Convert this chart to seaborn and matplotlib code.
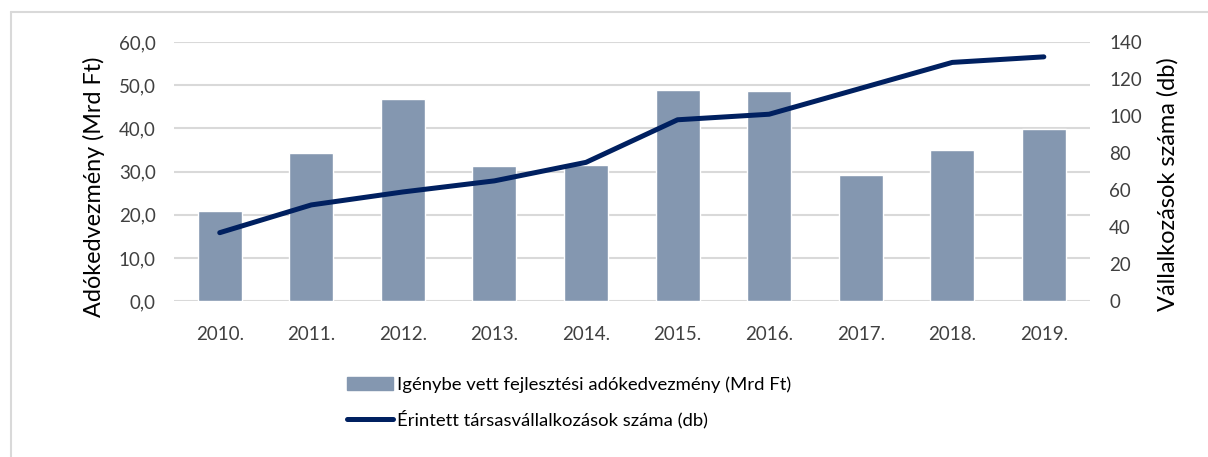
import matplotlib.pyplot as plt
import matplotlib.patches as mpatches
import matplotlib.ticker as mticker
import seaborn as sns
import pandas as pd

# Data
years = ['2010.', '2011.', '2012.', '2013.', '2014.',
         '2015.', '2016.', '2017.', '2018.', '2019.']
tax_relief = [20.8, 34.2, 46.7, 31.2, 31.6, 49.0, 48.7, 29.2, 35.1, 39.9]
companies = [37, 52, 59, 65, 75, 98, 101, 115, 129, 132]

bar_label = 'Igénybe vett fejlesztési adókedvezmény (Mrd Ft)'
line_label = 'Érintett társasvállalkozások száma (db)'

BAR_COLOR = '#8497b0'
LINE_COLOR = '#002060'
GRID_COLOR = '#d9d9d9'
TEXT_COLOR = '#404040'

sns.set_style('white')
plt.rcParams['font.family'] = ['Lato', 'DejaVu Sans']

df = pd.DataFrame({'year': years, 'relief': tax_relief, 'companies': companies})

fig = plt.figure(figsize=(12.08, 4.57), dpi=100)
ax = fig.add_axes([0.144, 0.341, 0.758, 0.567])

sns.barplot(data=df, x='year', y='relief', color=BAR_COLOR, width=0.48,
            saturation=1, ax=ax, zorder=2)
ax.set_ylim(0, 60)
ax.yaxis.set_major_locator(mticker.MultipleLocator(10))
ax.yaxis.set_major_formatter(
    mticker.FuncFormatter(lambda v, p: f'{v:.1f}'.replace('.', ',')))
ax.grid(axis='y', color=GRID_COLOR, linewidth=1.5, zorder=0)
ax.set_axisbelow(True)
for s in ax.spines.values():
    s.set_visible(False)
ax.set_xlabel('')
ax.set_ylabel('Adókedvezmény (Mrd Ft)', fontsize=16.8, color='black', labelpad=10)
ax.yaxis.label.set_y(0.44)
ax.tick_params(axis='both', length=0, labelsize=13.5, labelcolor=TEXT_COLOR)
ax.tick_params(axis='y', pad=13)
ax.tick_params(axis='x', pad=18)
ax.set_xlim(-0.5, len(years) - 0.5)

ax2 = ax.twinx()
sns.lineplot(data=df, x='year', y='companies', color=LINE_COLOR, linewidth=3.6,
             ax=ax2, sort=False, solid_capstyle='round')
ax2.set_ylim(0, 140)
ax2.yaxis.set_major_locator(mticker.MultipleLocator(20))
for s in ax2.spines.values():
    s.set_visible(False)
ax2.set_ylabel('Vállalkozások száma (db)', fontsize=17, color='black', labelpad=11)
ax2.yaxis.label.set_y(0.45)
ax2.tick_params(axis='y', length=0, labelsize=13.5, labelcolor=TEXT_COLOR, pad=14)
ax2.set_xlim(-0.5, len(years) - 0.5)

handles = [mpatches.Patch(color=BAR_COLOR, label=bar_label),
           plt.Line2D([], [], color=LINE_COLOR, linewidth=3.6, label=line_label)]
leg = fig.legend(handles=handles, loc='upper left', bbox_to_anchor=(0.281, 0.193),
                 frameon=False, fontsize=13.3, handlelength=2.5, handletextpad=0.2,
                 labelspacing=0.95, borderaxespad=0)
for t in leg.get_texts():
    t.set_color('black')

# chart frame (only left and top edges fall inside the image)
fig.add_artist(plt.Line2D([0.0095, 0.0095], [0, 0.973], color='#d9d9d9',
                          linewidth=1.5, transform=fig.transFigure))
fig.add_artist(plt.Line2D([0.0095, 1], [0.973, 0.973], color='#d9d9d9',
                          linewidth=1.5, transform=fig.transFigure))

fig.savefig('out.png', dpi=100)
